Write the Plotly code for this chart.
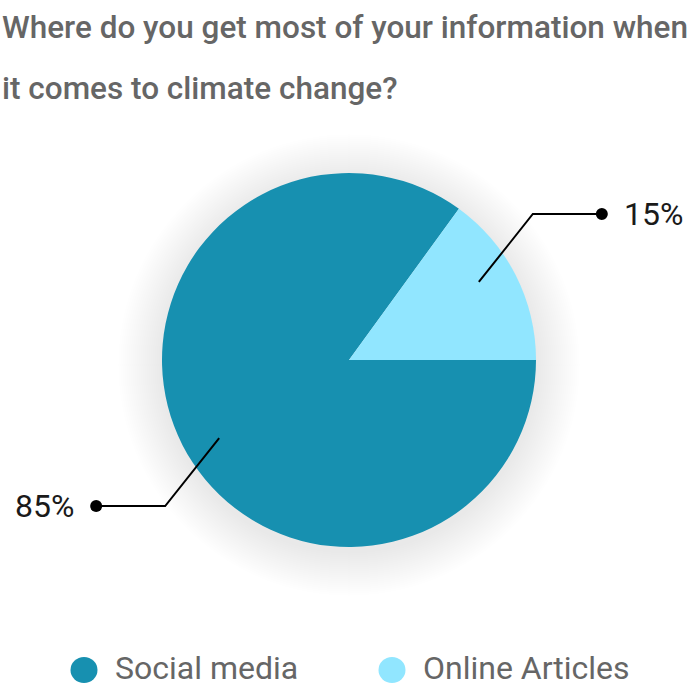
import math
import plotly.graph_objects as go

# ---- data ----
title_lines = ["Where do you get most of your information when", "it comes to climate change?"]
categories = ["Social media", "Online Articles"]
values = [85, 15]
value_labels = ["85%", "15%"]
colors = ["#1790B0", "#91E6FF"]

# ---- layout constants (pixels in a 700x700 canvas) ----
W = H = 700
cx, cy, R = 349, 360, 187
ROT = 90  # first slice starts at 3 o'clock, clockwise


def px(x):
    return x / W


def py(y):
    return 1 - y / H


fig = go.Figure(
    go.Pie(
        labels=categories,
        values=values,
        marker=dict(colors=colors, line=dict(width=0)),
        sort=False,
        direction="clockwise",
        rotation=ROT,
        textinfo="none",
        hoverinfo="label+percent",
        showlegend=False,
        domain=dict(x=[px(cx - R), px(cx + R)], y=[py(cy + R), py(cy - R)]),
    )
)

shapes = []
# soft drop shadow behind the pie
for k in range(1, 23):
    r = R + k * 2
    shapes.append(dict(type="circle", xref="paper", yref="paper", layer="below",
                       x0=px(cx - r), x1=px(cx + r), y0=py(cy + 5 + r), y1=py(cy + 5 - r),
                       fillcolor="rgba(0,0,0,0.0055)", line=dict(width=0)))

annotations = []
# leader lines + value labels, derived from slice mid-angles
total = sum(values)
a0 = 90 - ROT
for v, lab in zip(values, value_labels):
    span = 360 * v / total
    mid = math.radians(a0 - span / 2 + 4)
    a0 -= span
    sx = cx + 0.81 * R * math.cos(mid)
    sy = cy - 0.81 * R * math.sin(mid)
    side = 1 if math.cos(mid) >= 0 else -1
    vert = -1 if math.sin(mid) >= 0 else 1
    ex, ey = sx + side * 54, sy + vert * 68
    dx = ex + side * 69
    shapes.append(dict(type="path", xref="paper", yref="paper",
                       path=f"M {px(sx)} {py(sy)} L {px(ex)} {py(ey)} L {px(dx)} {py(ey)}",
                       line=dict(color="#000000", width=2)))
    shapes.append(dict(type="circle", xref="paper", yref="paper",
                       x0=px(dx - 6), x1=px(dx + 6), y0=py(ey + 6), y1=py(ey - 6),
                       fillcolor="#000000", line=dict(width=0)))
    annotations.append(dict(text=lab, xref="paper", yref="paper", showarrow=False,
                            x=px(dx + side * 20), y=py(ey),
                            xanchor="left" if side > 0 else "right", yanchor="middle",
                            font=dict(family="Roboto", size=32, color="#1a1a1a")))

# title
for i, line in enumerate(title_lines):
    annotations.append(dict(text=line, xref="paper", yref="paper", showarrow=False,
                            x=0, y=py(27 + i * 62), xanchor="left", yanchor="middle",
                            font=dict(family="Roboto", size=31.5, color="#666666", weight=500)))

# legend
leg_x = [84, 392]
leg_y = 670
for c, name, lx in zip(colors, categories, leg_x):
    shapes.append(dict(type="circle", xref="paper", yref="paper",
                       x0=px(lx - 13.5), x1=px(lx + 13.5), y0=py(leg_y + 13), y1=py(leg_y - 13),
                       fillcolor=c, line=dict(width=0)))
    annotations.append(dict(text=name, xref="paper", yref="paper", showarrow=False,
                            x=px(lx + 29), y=py(leg_y - 2), xanchor="left", yanchor="middle",
                            font=dict(family="Roboto", size=32, color="#666666")))

fig.update_layout(
    width=W, height=H,
    margin=dict(l=0, r=0, t=0, b=0),
    paper_bgcolor="white", plot_bgcolor="white",
    shapes=shapes, annotations=annotations,
    showlegend=False,
)

fig.write_html("out.html", config={"displayModeBar": False},
               post_script="document.body.style.margin='0';")
